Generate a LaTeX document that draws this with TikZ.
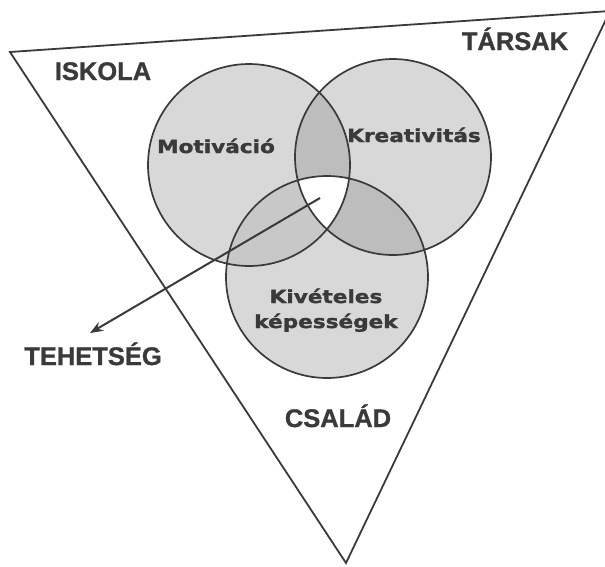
\documentclass[tikz,border=0pt]{standalone}
\usepackage{fontspec}
\setmainfont[BoldFeatures={FakeBold=1}]{Liberation Sans}
\newfontfamily\circfont[BoldFeatures={FakeBold=1.5}]{DejaVu Sans}
\usetikzlibrary{arrows.meta}
\definecolor{ink}{HTML}{3A3A3A}
\definecolor{fillone}{HTML}{D8D8D8}
\definecolor{filltwo}{HTML}{BDBDBD}
\definecolor{fillmk}{HTML}{C8C8C8}
\begin{document}
\begin{tikzpicture}[x=1pt,y=-1pt,
  outerlabel/.style={font=\bfseries\fontsize{25.5}{28}\selectfont, text=ink, inner sep=0pt, anchor=base},
  circlabel/.style={font=\circfont\bfseries\fontsize{18}{25}\selectfont, text=ink, inner sep=0pt, anchor=base},
  ring/.style={draw=ink, line width=1.7pt},
  frame/.style={draw=ink, line width=1.8pt, line join=miter},
  pointer/.style={draw=ink, line width=2pt, -{Stealth[length=13pt,width=10pt]}}]
\useasboundingbox (0,0) rectangle (605,566);
% geometry
\coordinate (tl) at (10,52);
\coordinate (tr) at (610,11);
\coordinate (bt) at (346,563);
\coordinate (cm) at (249,165);
\coordinate (ck) at (393,157);
\coordinate (cv) at (327,277);
% single fills
\fill[fillone] (cm) circle[radius=101pt];
\fill[fillone] (ck) circle[radius=98pt];
\fill[fillone] (cv) circle[radius=101pt];
% pairwise
\begin{scope}
  \clip (cm) circle[radius=101pt];
  \fill[filltwo] (ck) circle[radius=98pt];
  \fill[fillmk] (cv) circle[radius=101pt];
\end{scope}
\begin{scope}
  \clip (ck) circle[radius=98pt];
  \fill[filltwo] (cv) circle[radius=101pt];
\end{scope}
% triple
\begin{scope}
  \clip (cm) circle[radius=101pt];
  \clip (ck) circle[radius=98pt];
  \fill[white] (cv) circle[radius=101pt];
\end{scope}
% outlines
\draw[ring] (cm) circle[radius=101pt];
\draw[ring] (ck) circle[radius=98pt];
\draw[ring] (cv) circle[radius=101pt];
\draw[frame] (tl) -- (tr) -- (bt) -- cycle;
% labels
\node[outerlabel] (iskola) at (103,80) {ISKOLA};
\node[outerlabel] (tarsak) at (515,50) {TÁRSAK};
\node[outerlabel] (csalad) at (338,427) {CSALÁD};
\node[outerlabel] (tehetseg) at (93,365) {TEHETSÉG};
\node[circlabel] (motiv) at (216,153) {\scalebox{1.2}[1]{Motiváció}};
\node[circlabel] (kreat) at (414,142) {\scalebox{1.2}[1]{Kreativitás}};
\node[circlabel] (kivet) at (326,303) {\scalebox{1.2}[1]{\begin{tabular}[t]{@{}c@{}}Kivételes\\képességek\end{tabular}}};
% arrow
\coordinate (arrowstart) at (320,198);
\coordinate (arrowtip) at (90,333);
\draw[pointer] (arrowstart) -- (arrowtip);
\end{tikzpicture}
\end{document}
